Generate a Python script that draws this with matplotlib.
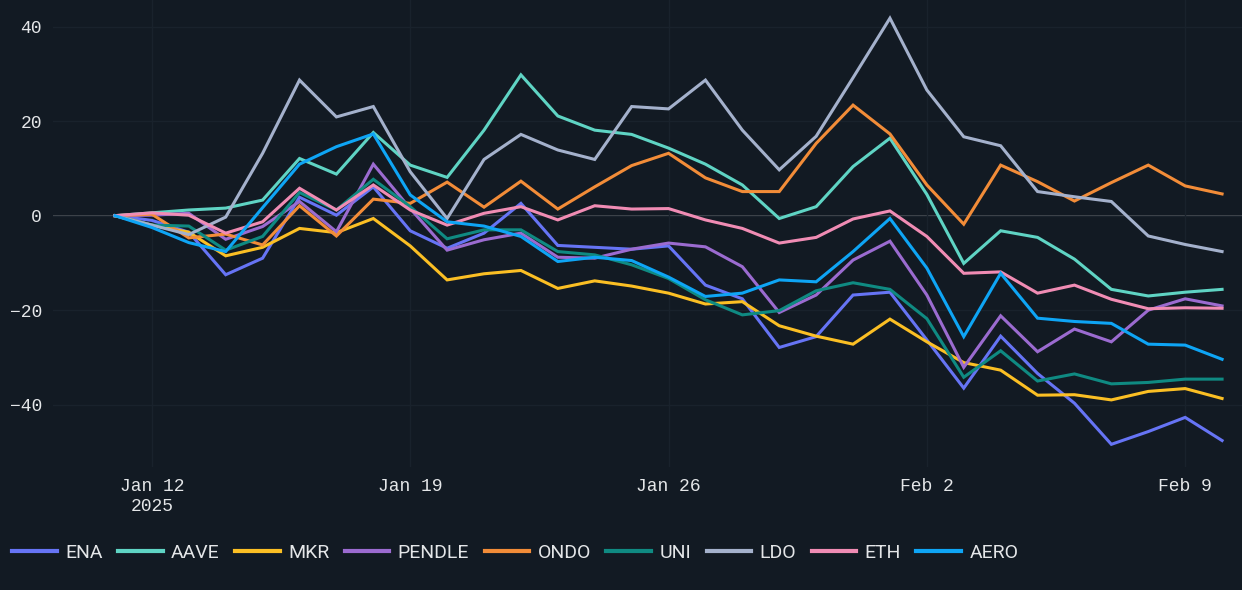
import numpy as np
import pandas as pd
import matplotlib
matplotlib.use('Agg')
import matplotlib.pyplot as plt
import matplotlib.dates as mdates
from matplotlib.ticker import FuncFormatter

# daily % change since Jan 11 2025
dates = pd.date_range('2025-01-11', '2025-02-10', freq='D')

ena = [0, -1, -3.5, -12.5, -9.0, 3.9, 0.1, 6.1, -3.2, -6.9, -3.7, 2.6, -6.3, -6.7, -7.1, -6.4,
       -14.7, -17.6, -27.9, -25.6, -16.8, -16.2, -26.3, -36.5, -25.5, -33.4, -39.7, -48.4, -45.7, -42.7, -47.6]
aave = [0, 0.6, 1.2, 1.6, 3.3, 12.1, 8.8, 17.6, 10.7, 8.1, 18.1, 29.8, 21.1, 18.1, 17.2, 14.3,
        10.9, 6.5, -0.6, 1.9, 10.4, 16.4, 4.5, -10.1, -3.2, -4.6, -9.2, -15.6, -17.0, -16.2, -15.6]
mkr = [0, -2, -3.5, -8.5, -6.7, -2.7, -3.6, -0.6, -6.4, -13.6, -12.3, -11.6, -15.4, -13.8, -14.9, -16.4,
       -18.7, -18.2, -23.3, -25.5, -27.2, -21.9, -26.7, -31.1, -32.7, -38.0, -37.9, -39.0, -37.2, -36.6, -38.7]
pendle = [0, 0.1, 0.5, -5.0, -2.3, 3.0, -3.4, 10.9, 1.5, -7.3, -5.1, -3.7, -8.8, -9.0, -7.1, -5.8,
          -6.6, -10.8, -20.5, -16.8, -9.4, -5.4, -16.8, -32.1, -21.2, -28.8, -24.0, -26.7, -20.0, -17.6, -19.1]
ondo = [0, 0.3, -4.7, -3.9, -6.2, 2.1, -4.3, 3.5, 2.6, 7.1, 1.8, 7.3, 1.4, 6.1, 10.6, 13.2,
        8.0, 5.1, 5.1, 15.3, 23.4, 17.3, 6.5, -1.8, 10.7, 7.2, 3.1, 7.0, 10.7, 6.3, 4.6]
uni = [0, -2, -2.2, -7.3, -4.4, 4.9, 1.2, 7.7, 1.9, -4.9, -3.0, -3.0, -7.6, -8.3, -10.4, -13.3,
       -17.8, -21.0, -20.1, -15.9, -14.2, -15.6, -21.8, -34.2, -28.6, -35.0, -33.5, -35.6, -35.3, -34.6, -34.6]
ldo = [0, -2, -4, -0.3, 13.2, 28.7, 20.9, 23.1, 9.3, -0.6, 11.9, 17.2, 13.9, 11.9, 23.1, 22.6,
       28.7, 18.1, 9.7, 16.8, 29.2, 41.8, 26.6, 16.7, 14.8, 5.1, 4.0, 3.0, -4.3, -6.1, -7.6]
eth = [0, 0.6, 0.1, -3.7, -1.3, 5.8, 1.2, 6.5, 1.2, -2.0, 0.5, 1.9, -0.9, 2.1, 1.4, 1.5,
       -0.9, -2.7, -5.8, -4.6, -0.7, 1.0, -4.4, -12.2, -11.9, -16.4, -14.7, -17.7, -19.7, -19.5, -19.6]
aero = [0, -2.5, -5.7, -7.6, 1.7, 10.9, 14.6, 17.3, 4.4, -1.3, -2.2, -4.4, -9.7, -8.8, -9.5, -13.0,
        -17.1, -16.4, -13.6, -14.0, -7.6, -0.6, -11.1, -25.6, -12.2, -21.7, -22.4, -22.8, -27.2, -27.4, -30.4]

names = ['ENA', 'AAVE', 'MKR', 'PENDLE', 'ONDO', 'UNI', 'LDO', 'ETH', 'AERO']
series = [ena, aave, mkr, pendle, ondo, uni, ldo, eth, aero]
colors = ['#6674f5', '#5fd4c4', '#fbbf24', '#9b6bd0', '#f28c38', '#0f8a82', '#a4b1cc', '#f08cb4', '#0ea5f5']

bg = '#121a23'
txt = '#e4e6e8'

fig = plt.figure(figsize=(12.42, 5.9), dpi=100, facecolor=bg)
ax = fig.add_axes([53 / 1242, 1 - 467 / 590, 1 - 53 / 1242, 467 / 590])
ax.set_facecolor(bg)

ax.axhline(0, color='#4b5056', lw=1.3, zorder=1)
for name, vals, c in zip(names, series, colors):
    ax.plot(dates, vals, color=c, lw=2.2, label=name, zorder=2, solid_joinstyle='miter')

start = dates[0]
ax.set_xlim(start - pd.Timedelta(days=1.68), start + pd.Timedelta(days=30.54))
ax.set_ylim(-53.2, 45.65)

ticks = pd.to_datetime(['2025-01-12', '2025-01-19', '2025-01-26', '2025-02-02', '2025-02-09'])
ax.set_xticks(ticks)
ax.set_yticks([-40, -20, 0, 20, 40])


def fmt_date(x, pos):
    d = mdates.num2date(x)
    lab = d.strftime('%b ') + str(d.day)
    if pos == 0:
        lab += '\n' + str(d.year)
    return lab


ax.xaxis.set_major_formatter(FuncFormatter(fmt_date))
ax.grid(True, color='#19222c', lw=1.0, zorder=0)
for s in ax.spines.values():
    s.set_visible(False)
ax.tick_params(length=0, colors=txt, labelsize=13, pad=8)
for lab in ax.get_xticklabels() + ax.get_yticklabels():
    lab.set_family(['Liberation Mono', 'DejaVu Sans Mono'])
    lab.set_color(txt)

leg = fig.legend(loc='center left', bbox_to_anchor=(12 / 1242, 1 - 553 / 590), ncol=9,
                 frameon=False, borderpad=0, borderaxespad=0, handlelength=2.3,
                 handletextpad=0.42, columnspacing=0.8,
                 prop={'family': 'Roboto', 'size': 14})
for t in leg.get_texts():
    t.set_color(txt)
for h in leg.legend_handles:
    h.set_linewidth(3)

fig.savefig('out.png', dpi=100, facecolor=bg)
